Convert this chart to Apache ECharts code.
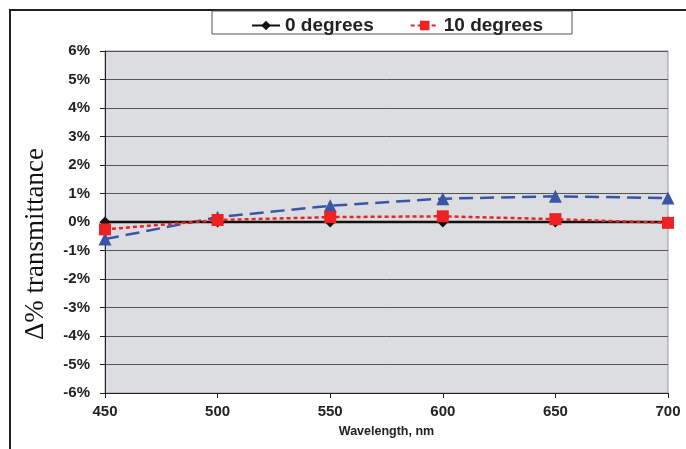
<!DOCTYPE html>
<html><head><meta charset="utf-8">
<script src="https://cdn.jsdelivr.net/npm/echarts@6/dist/echarts.min.js"></script>
<style>html,body{margin:0;padding:0;background:#fff}#c{width:686px;height:449px}</style>
</head><body><div id="c"></div>
<script>
const wavelengths = [450, 500, 550, 600, 650, 700];
const deg0 = [0, 0, 0, 0, 0, 0];
const deg10 = [-0.26, 0.07, 0.17, 0.2, 0.1, -0.03];
const degOther = [-0.6, 0.17, 0.57, 0.82, 0.9, 0.84];
const yTicks = [-6, 6, 1];
const yTitle = 'Δ% transmittance';

const pair = a => wavelengths.map((w, i) => [w, a[i]]);
const chart = echarts.init(document.getElementById('c'));
chart.setOption({
  animation: false,
  backgroundColor: '#fff',
  graphic: [
    {type: 'rect', shape: {x: 10, y: 10, width: 700, height: 460}, style: {fill: 'none', stroke: '#222', lineWidth: 2}, z: 0},
    {type: 'rect', shape: {x: 212, y: 11, width: 360, height: 23}, style: {fill: '#fff', stroke: '#555', lineWidth: 1}, z: 5},
    {type: 'text', x: 36, y: 244, rotation: Math.PI / 2,
     style: {text: yTitle, textAlign: 'center', textVerticalAlign: 'middle', fill: '#111',
             font: '27px "Liberation Serif", "Times New Roman", serif'}, z: 5}
  ],
  grid: {left: 105, right: 18, top: 51, bottom: 56, show: true, backgroundColor: '#dcdde0', borderColor: '#999', borderWidth: 1},
  legend: {
    data: ['0 degrees', '10 degrees'],
    left: 246, top: 11, itemWidth: 28, itemHeight: 12, itemGap: 36, z: 10,
    textStyle: {fontFamily: 'Liberation Sans, Arial', fontWeight: 'bold', fontSize: 19, color: '#222'}
  },
  xAxis: {
    type: 'value', min: 450, max: 700, interval: 50,
    name: 'Wavelength, nm', nameLocation: 'middle', nameGap: 32,
    nameTextStyle: {fontFamily: 'Liberation Sans, Arial', fontWeight: 'bold', fontSize: 12.5, color: '#222'},
    axisLine: {show: true, onZero: false, lineStyle: {color: '#222', width: 1}},
    axisTick: {show: true, length: 5, lineStyle: {color: '#222'}},
    axisLabel: {fontFamily: 'Liberation Sans, Arial', fontWeight: 'bold', fontSize: 15, color: '#222', margin: 11},
    splitLine: {show: false}
  },
  yAxis: {
    type: 'value', min: yTicks[0], max: yTicks[1], interval: yTicks[2],
    axisLine: {show: true, lineStyle: {color: '#222', width: 1}},
    axisTick: {show: true, length: 5, lineStyle: {color: '#222'}},
    axisLabel: {formatter: v => v + '%', fontFamily: 'Liberation Sans, Arial', fontWeight: 'bold', fontSize: 15, color: '#222', margin: 15},
    splitLine: {show: true, lineStyle: {color: '#555', width: 1}}
  },
  series: [
    {name: 'other', type: 'line', data: pair(degOther), symbol: 'triangle', symbolSize: 13,
     itemStyle: {color: '#3a55a6'}, lineStyle: {color: '#3a55a6', width: 2.5, type: [14, 7]}, z: 3},
    {name: '0 degrees', type: 'line', data: pair(deg0), symbol: 'diamond', symbolSize: 11,
     itemStyle: {color: '#111'}, lineStyle: {color: '#111', width: 2.5}, z: 4},
    {name: '10 degrees', type: 'line', data: pair(deg10), symbol: 'rect', symbolSize: 12,
     itemStyle: {color: '#ee2222'}, lineStyle: {color: '#ee2222', width: 2.5, type: [4, 3]}, z: 5}
  ]
});
</script></body></html>
